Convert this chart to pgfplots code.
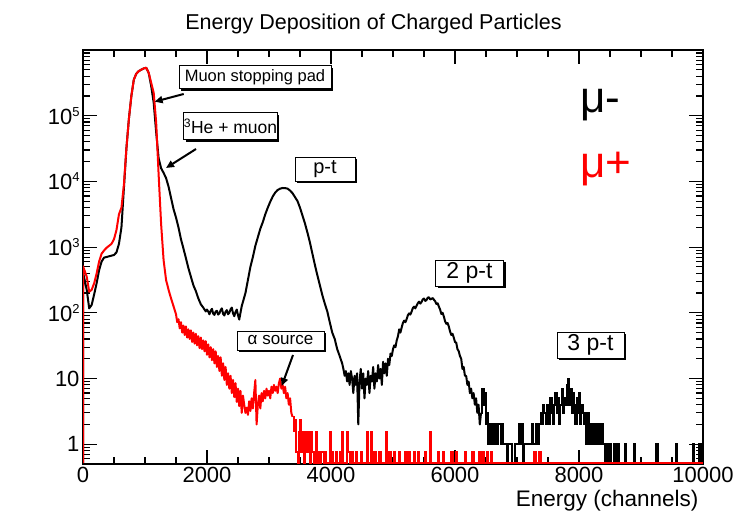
\documentclass[border=0pt]{standalone}
\usepackage{fontspec}
\setmainfont{Liberation Sans}
\usepackage{pgfplots}
\pgfplotsset{compat=1.18}
\usetikzlibrary{arrows.meta,shadows}
\newcommand{\ex}[1]{10\raisebox{8bp}{\fontsize{13bp}{13bp}\selectfont #1}}
\begin{document}
\begin{tikzpicture}[
  box/.style={draw=black, line width=0.8bp, fill=white, inner sep=0pt,
    drop shadow={shadow xshift=2.2bp, shadow yshift=-2.2bp, opacity=1, fill=black},
    font=\fontsize{17.5bp}{17.5bp}\selectfont},
  arr/.style={line width=2bp, -{Triangle[length=8bp,width=7bp]}}
]
\path[use as bounding box] (0,0) rectangle (747bp,517bp);
\begin{axis}[
  at={(83bp,53bp)}, anchor=south west,
  scale only axis, width=620bp, height=414bp,
  xmin=0, xmax=10000, ymode=log, ymin=0.5, ymax=1e6,
  scaled x ticks=false,
  axis line style={line width=2bp},
  tick style={line width=1.2bp, black},
  major tick length=14bp, minor tick length=7.5bp,
  tick align=inside,
  xtick={0,2000,4000,6000,8000,10000},
  xticklabels={0,2000,4000,6000,8000,10000},
  minor xtick={500,1000,1500,2500,3000,3500,4500,5000,5500,6500,7000,7500,8500,9000,9500},
  ytick={1,10,100,1000,10000,100000},
  yticklabels={1,10,\ex{2},\ex{3},\ex{4},\ex{5}},
  minor ytick={0.6,0.7,0.8,0.9,2,3,4,5,6,7,8,9,20,30,40,50,60,70,80,90,200,300,400,500,600,700,800,900,2000,3000,4000,5000,6000,7000,8000,9000,20000,30000,40000,50000,60000,70000,80000,90000,200000,300000,400000,500000,600000,700000,800000,900000},
  xticklabel style={font=\fontsize{22bp}{22bp}\selectfont},
  yticklabel style={font=\fontsize{22bp}{22bp}\selectfont},
]
% mu- : dense part
\addplot[sharp plot, black, line width=2bp, line join=round] coordinates {
(0,0.515)(0,417)(60,224)(100,117)(140,132)(180,191)(220,282)(260,447)(300,603)(340,692)(380,708)(420,724)(460,741)(500,759)(540,832)(580,1122)(620,1995)(660,7943)(700,31623)(740,89125)(780,199526)(820,354813)(860,436516)(900,478630)(940,501187)(980,524807)(1020,537032)(1060,446684)(1100,281838)(1140,158489)(1180,56234)(1220,22387)(1260,15849)(1300,13490)(1340,11220)(1380,8318)(1420,5623)(1460,3802)(1500,2818)(1540,1995)(1580,1318)(1620,955)(1660,676)(1700,479)(1740,355)(1780,263)(1820,214)(1860,166)(1900,135)(1940,120)(1980,105)
(2000,112)(2020,104)(2040,95)(2060,108)(2080,115)(2100,97)(2120,93)(2140,105)(2160,107)(2180,94)(2200,98)(2220,110)(2240,117)(2260,96)(2280,91)(2300,104)(2320,110)(2340,95)(2360,100)(2380,113)(2400,120)(2420,98)(2440,89)(2460,103)(2480,112)(2500,92)(2520,79)(2540,100)(2560,126)
(2620,200)(2660,316)(2700,501)(2740,708)(2780,1047)(2820,1413)(2860,1905)(2900,2399)(2940,3162)(2980,3981)(3020,4898)(3060,5888)(3100,6761)(3140,7413)(3180,7762)(3220,7943)(3260,7900)(3300,7762)(3340,7244)(3380,6607)(3420,5754)(3460,5012)(3500,3981)(3540,3020)(3580,2291)(3620,1660)(3660,1175)(3700,794)(3740,537)(3780,372)(3820,263)(3860,186)(3900,138)(3940,105)(3980,72)(4020,50)(4060,40)(4100,28)(4140,22)(4180,17)
(4200,14)(4220,11)(4240,13)(4260,9)(4280,12)(4300,8)(4320,13)(4340,10)(4360,6)(4380,11)(4400,8)(4420,12)(4440,2)(4460,9)(4480,14)(4500,7)(4520,12)(4540,5)(4560,10)(4580,8)(4600,13)(4620,6)(4640,11)(4660,9)(4680,15)(4700,7)(4720,12)(4740,9)(4760,16)(4780,10)(4800,14)(4820,8)(4840,18)(4860,12)(4880,17)(4900,11)(4920,20)(4940,16)(4960,24)(4980,22)
(5000,28)(5020,32)(5040,30)(5060,38)(5080,44)(5100,56)(5120,50)(5140,60)(5160,70)(5180,76)(5200,72)(5220,80)(5240,92)(5260,98)(5280,94)(5300,104)(5320,118)(5340,124)(5360,117)(5380,128)(5400,140)(5420,148)(5440,138)(5460,146)(5480,160)(5500,165)(5520,152)(5540,156)(5560,170)(5580,172)(5600,160)(5620,163)(5640,168)(5660,158)(5680,150)(5700,136)(5720,140)(5740,124)(5760,112)(5780,96)(5800,100)(5820,88)(5840,74)(5860,68)(5880,70)(5900,62)(5920,52)(5940,46)(5960,48)(5980,42)(6000,36)(6020,35)(6040,28)(6060,26)(6080,22)(6100,20)(6120,14)(6140,15)(6160,11)(6180,11)(6200,8)(6220,9)(6240,6)(6260,7)(6280,5)(6300,6)(6320,4)(6340,5)(6360,3)(6380,4)(6400,2)(6420,3)
};
% mu- : sparse tail
\addplot[const plot, black, line width=2bp] coordinates {
(6420,3)(6440,7)(6460,4)(6480,6)(6500,2)(6520,3)(6540,1)(6560,2)(6580,1)(6600,2)(6620,1)(6640,2)(6660,2)(6680,1)(6700,2)(6720,2)(6740,1)(6760,2)(6780,1)(6800,1)(6840,0.515)(6860,1)(6880,1)(6920,0.515)(6960,1)(7000,1)(7040,2)(7060,1)(7080,2)(7100,0.515)(7120,1)(7160,1)(7240,2)(7260,1)(7300,2)(7320,1)(7360,2)(7380,3)(7400,2)(7420,4)(7440,3)(7460,2)(7480,4)(7500,3)(7520,2)(7540,5)(7560,3)(7580,2)(7600,4)(7620,6)(7640,3)(7660,5)(7680,2)(7700,4)(7720,7)(7740,3)(7760,5)(7780,4)(7800,8)(7820,10)(7840,4)(7860,7)(7880,3)(7900,6)(7920,4)(7940,2)(7960,5)(7980,3)(8000,6)(8020,2)(8040,4)(8060,3)(8080,2)(8100,3)(8120,1)(8140,3)(8160,2)(8180,1)(8200,2)(8220,1)(8240,2)(8260,1)(8280,2)(8300,1)(8320,2)(8340,1)(8360,2)(8380,1)(8420,0.515)(8440,1)(8460,0.515)(8500,1)(8520,0.515)(8560,1)(8580,0.515)(8620,1)(8640,0.515)(8740,1)(8760,0.515)(8880,1)(8900,0.515)(9240,1)(9280,0.515)(9560,1)(9580,0.515)(9840,1)(9860,0.515)(9940,1)(9960,0.515)(10000,0.515)
};
% mu+ : dense part
\addplot[sharp plot, red, line width=2bp, line join=round] coordinates {
(0,0.515)(0,513)(60,355)(100,209)(140,224)(180,282)(220,398)(260,603)(300,794)(340,891)(380,977)(420,1047)(460,1122)(500,1318)(540,1820)(580,3162)(620,3981)(660,8913)(700,31623)(740,89125)(780,199526)(820,354813)(860,436516)(900,478630)(940,501187)(980,524807)(1020,537032)(1060,446684)(1100,316228)(1140,223872)(1180,79433)(1220,12589)(1260,2239)(1300,631)(1340,316)(1380,224)(1420,166)(1460,126)
(1500,95)(1520,72)(1540,80)(1560,58)(1580,72)(1600,50)(1620,64)(1640,46)(1660,62)(1680,42)(1700,56)(1720,40)(1740,54)(1760,36)(1780,50)(1800,34)(1820,48)(1840,32)(1860,44)(1880,29)(1900,42)(1920,28)(1940,38)(1960,26)(1980,37)(2000,23)(2020,33)(2040,21)(2060,30)(2080,19)(2100,28)(2120,17)(2140,26)(2160,15)(2180,22)(2200,13)(2220,21)(2240,11)(2260,17)(2280,9.5)(2300,15)(2320,8)(2340,12)(2360,7)(2380,11)(2400,6)(2420,9.5)(2440,5.2)(2460,8.5)(2480,4.4)(2500,7)(2520,3.8)(2540,6.5)(2560,3)(2580,5.5)
(2600,4)(2620,3)(2640,3.6)(2660,2.8)(2680,4.5)(2700,3.2)(2720,5)(2740,3.5)(2760,6)(2780,9.5)(2800,2)(2820,4)(2840,5.5)(2860,3.5)(2880,6)(2900,4.5)(2920,6.5)(2940,5)(2960,7)(2980,5.5)(3000,6.5)(3020,5)(3040,7.5)(3060,6)(3080,8)(3100,6.5)(3120,7.5)(3140,6)(3160,8.5)(3180,10)(3200,7)(3220,8)(3240,6)(3260,7.5)(3280,5)(3300,6)(3320,4)(3340,5)(3360,3)(3380,2.6)
};
% mu+ : sparse tail
\addplot[const plot, red, line width=2bp] coordinates {
(3380,2.6)(3400,1.6)(3420,2.3)(3440,0.76)(3460,0.515)(3480,1.52)(3500,2.3)(3520,0.76)(3540,1.52)(3560,0.515)(3580,1.52)(3600,0.76)(3620,1.52)(3640,0.76)(3660,0.515)(3680,1.52)(3700,0.76)(3720,0.515)(3740,0.76)(3760,1.52)(3780,0.515)(3800,0.76)(3820,0.515)(3840,0.76)(3880,0.515)(3900,0.76)(3920,0.515)(3980,1.52)(4000,0.515)(4020,0.76)(4040,0.515)(4080,0.76)(4100,0.515)(4140,0.76)(4160,0.515)(4180,1.52)(4200,0.515)(4260,1.52)(4280,0.76)(4300,0.515)(4340,0.76)(4360,0.515)(4400,0.76)(4420,0.515)(4480,0.76)(4500,0.515)(4580,1.52)(4600,0.515)(4640,1.52)(4660,0.515)(4700,0.76)(4720,0.515)(4780,0.76)(4800,0.515)(4880,1.52)(4900,0.515)(4940,0.76)(4960,0.515)(5020,0.76)(5040,0.515)(5100,0.76)(5120,0.515)(5200,0.76)(5220,0.515)(5260,0.76)(5280,0.515)(5340,0.76)(5360,0.515)(5400,0.76)(5420,0.515)(5520,0.76)(5540,0.515)(5600,1.52)(5620,0.515)(5720,0.76)(5740,0.515)(5800,0.76)(5820,0.515)(5940,0.76)(5960,0.515)(6020,0.76)(6040,0.515)(6160,0.76)(6180,0.515)(6280,0.76)(6300,0.515)(6380,0.76)(6400,0.515)(6440,0.76)(6460,0.515)(6520,0.76)(6540,0.515)(6580,0.76)(6600,0.515)(7280,0.76)(7300,0.515)(7360,0.76)(7380,0.515)(10000,0.515)
};
\end{axis}
\node[anchor=base, font=\fontsize{21.5bp}{21.5bp}\selectfont] at (373.5bp,487bp) {Energy Deposition of Charged Particles};
\node[anchor=base east, font=\fontsize{22.5bp}{22.5bp}\selectfont] at (702bp,10.5bp) {Energy (channels)};
\node[anchor=base west, font=\fontsize{44bp}{44bp}\selectfont] at (577bp,404bp) {μ-};
\node[anchor=base west, red, font=\fontsize{44bp}{44bp}\selectfont] at (577bp,339bp) {μ+};
\node[box, minimum width=152bp, minimum height=23bp, font=\fontsize{16.5bp}{16.5bp}\selectfont] at (255bp,440bp) {Muon stopping pad};
\node[box, minimum width=89bp, minimum height=27bp] at (230.5bp,391bp) {\textsuperscript{3}He + muon};
\node[box, minimum width=60bp, minimum height=24bp, font=\fontsize{20bp}{20bp}\selectfont] at (325bp,348bp) {p-t};
\node[box, minimum width=68bp, minimum height=26bp, font=\fontsize{23bp}{23bp}\selectfont] at (469.5bp,244bp) {2 p-t};
\node[box, minimum width=67bp, minimum height=26bp, font=\fontsize{23bp}{23bp}\selectfont] at (590.5bp,172bp) {3 p-t};
\node[box, minimum width=87bp, minimum height=19bp, font=\fontsize{17bp}{17bp}\selectfont] at (280.5bp,176.5bp) {α source};
\draw[arr] (183.7bp,423bp) -- (154.6bp,415.3bp);
\draw[arr] (196bp,368bp) -- (166bp,349bp);
\draw[arr] (293bp,162bp) -- (281.7bp,131bp);
\end{tikzpicture}
\end{document}
